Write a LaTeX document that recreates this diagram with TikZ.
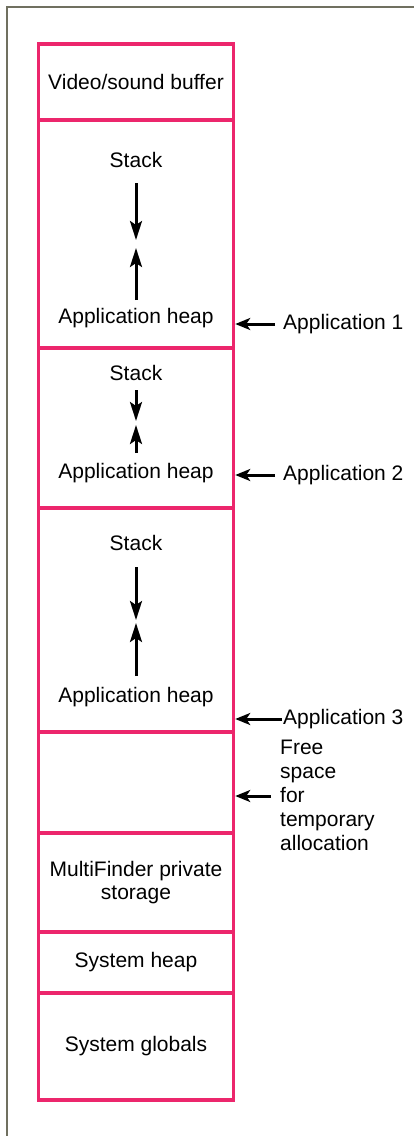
\documentclass[tikz,border=0pt]{standalone}
\usepackage{fontspec}
\setmainfont{Liberation Sans}
\usepackage{tikz}
\usetikzlibrary{arrows.meta,positioning}
\definecolor{mfpink}{RGB}{236,38,108}
\definecolor{framegray}{RGB}{112,112,96}

\begin{document}
\begin{tikzpicture}[x=1pt, y=-1pt,
  region/.style={draw=mfpink, line width=3.5pt, minimum width=195pt, inner sep=0pt, align=center},
  lbl/.style={font=\fontsize{21}{23}\selectfont, text=black, inner sep=1pt},
  growarrow/.style={-{Stealth[length=19pt,width=12pt,inset=4pt]}, line width=3pt},
  ptrarrow/.style={-{Stealth[length=15pt,width=12pt,inset=4pt]}, line width=3pt}]
\useasboundingbox (0,0) rectangle (414,1136);
% Page frame
\draw[framegray, line width=1.8pt] (414,7) -- (7,7) -- (7,1136);
% Memory map
\node[region, lbl, minimum height=76pt]  (vid)  at (136,82)    {Video/sound buffer};
\node[region, minimum height=228pt]      (app1) at (136,234)   {};
\node[region, minimum height=160pt]      (app2) at (136,428)   {};
\node[region, minimum height=224pt]      (app3) at (136,620)   {};
\node[region, minimum height=101pt]      (free) at (136,782.5) {};
\node[region, lbl, minimum height=99pt]  (mf)   at (136,882.5) {MultiFinder private\\storage};
\node[region, lbl, minimum height=61pt]  (sysh) at (136,962.5) {System heap};
\node[region, lbl, minimum height=107pt] (sysg) at (136,1046.5) {System globals};
% Stack and heap of each application
\foreach \n/\s/\h/\da/\db/\ua/\ub in {1/160/318/183/240/300/248, 2/373/473/390/421/453/425, 3/543/697/567/620/676/623} {
  \node[lbl] (stack\n) at (136,\s) {Stack};
  \node[lbl] (heap\n) at (136,\h) {Application heap};
  \coordinate (sd\n) at (136,\db);
  \coordinate (hu\n) at (136,\ub);
  \draw[growarrow] (136,\da) -- (sd\n);
  \draw[growarrow] (136,\ua) -- (hu\n);
}
% Pointers from the right
\node[lbl, anchor=west] (an1) at (282,324) {Application 1};
\node[lbl, anchor=west] (an2) at (282,475) {Application 2};
\node[lbl, anchor=west] (an3) at (282,719) {Application 3};
\node[lbl, anchor=north west, align=left, font=\fontsize{21}{24}\selectfont] (fs) at (279,739)
  {Free\\space\\for\\temporary\\allocation};
\coordinate (fp) at (271,796);
\foreach \n in {1,2} {
  \draw[ptrarrow] ([xshift=-7pt]an\n.west) -- (an\n.west -| app1.east);
}
\draw[ptrarrow] (an3.west) -- (an3.west -| app1.east);
\draw[ptrarrow] (fp) -- (fp -| free.east);
\end{tikzpicture}
\end{document}
